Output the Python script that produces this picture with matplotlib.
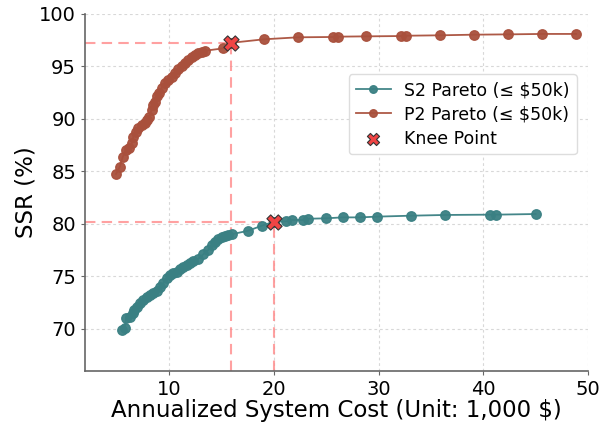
import numpy as np
import matplotlib.pyplot as plt

# S2 Pareto front (cost in 1,000 $, SSR in %)
s2_cost = [5.49, 5.80, 5.90, 6.28, 6.60, 6.66, 6.92, 7.23, 7.55, 7.87, 8.19,
           8.50, 8.83, 9.14, 9.46, 9.78, 10.10, 10.41, 10.73, 11.05, 11.36,
           11.69, 12.00, 12.32, 12.80, 13.27, 13.75, 14.07, 14.39, 14.70,
           15.03, 15.34, 15.66, 15.98, 17.57, 18.90, 20.05, 21.16, 21.71,
           22.76, 23.29, 24.98, 26.57, 28.23, 29.82, 33.06, 36.34, 40.63,
           41.20, 44.99]
s2_ssr = [69.90, 70.06, 71.02, 71.17, 71.49, 71.81, 72.12, 72.45, 72.76,
          73.02, 73.24, 73.40, 73.65, 73.97, 74.35, 74.83, 75.14, 75.30,
          75.46, 75.68, 75.90, 76.10, 76.30, 76.48, 76.70, 77.10, 77.52,
          78.00, 78.31, 78.57, 78.73, 78.86, 78.95, 79.02, 79.36, 79.85,
          80.22, 80.25, 80.38, 80.38, 80.50, 80.54, 80.63, 80.63, 80.70,
          80.79, 80.86, 80.89, 80.89, 80.95]

# P2 Pareto front
p2_cost = [4.95, 5.32, 5.58, 5.90, 6.21, 6.47, 6.60, 6.85, 7.07, 7.40, 7.71,
           7.93, 8.12, 8.35, 8.50, 8.66, 8.88, 9.07, 9.30, 9.62, 9.93, 10.26,
           10.57, 10.89, 11.21, 11.53, 11.84, 12.17, 12.48, 12.81, 13.12,
           13.44, 15.20, 15.90, 19.07, 22.34, 25.62, 26.09, 28.80, 32.11,
           32.61, 35.86, 39.10, 42.38, 45.62, 48.86]
p2_ssr = [84.76, 85.46, 86.35, 87.05, 87.27, 87.68, 88.32, 88.79, 89.11,
          89.43, 89.59, 89.90, 90.22, 90.86, 91.33, 91.65, 92.19, 92.45,
          92.92, 93.40, 93.71, 94.03, 94.41, 94.73, 95.05, 95.37, 95.62,
          95.87, 96.10, 96.26, 96.41, 96.50, 96.73, 97.25, 97.59, 97.78,
          97.81, 97.84, 97.87, 97.90, 97.93, 97.97, 98.03, 98.06, 98.10,
          98.10]

knee_cost = [15.90, 20.05]
knee_ssr = [97.25, 80.22]

s2_color = '#3a8083'
p2_color = '#a9503c'

plt.rcParams['font.family'] = 'DejaVu Sans'
fig = plt.figure(figsize=(6.12, 4.24), dpi=100)
ax = fig.add_axes([0.139, 0.125, 0.822, 0.842])

ax.grid(True, color='#d8d8d8', linestyle=(0, (2.5, 2.5)), linewidth=0.8)
ax.set_axisbelow(True)

xmin, ymin = 2, 66
for kx, ky in zip(knee_cost, knee_ssr):
    ax.plot([xmin, kx], [ky, ky], color='#ff8a8a', alpha=0.8, lw=1.5,
            linestyle=(0, (5, 3)), zorder=1)
    ax.plot([kx, kx], [ymin, ky], color='#ff8a8a', alpha=0.8, lw=1.5,
            linestyle=(0, (5, 3)), zorder=1)

ax.plot(s2_cost, s2_ssr, '-o', color=s2_color, ms=6.8, lw=1.3, alpha=0.95,
        label='S2 Pareto (≤ $50k)', zorder=3)
ax.plot(p2_cost, p2_ssr, '-o', color=p2_color, ms=6.8, lw=1.3, alpha=0.95,
        label='P2 Pareto (≤ $50k)', zorder=3)
ax.scatter(knee_cost, knee_ssr, marker='X', s=120, color='#f04444',
           edgecolors='#333333', linewidths=0.8, label='Knee Point', zorder=5)

ax.set_xlim(xmin, 50)
ax.set_ylim(ymin, 100)
ax.set_xticks([10, 20, 30, 40, 50])
ax.set_yticks([70, 75, 80, 85, 90, 95, 100])
ax.tick_params(labelsize=14, length=3, color='#666666')
ax.set_xlabel('Annualized System Cost (Unit: 1,000 $)', fontsize=16.5, labelpad=0)
ax.set_ylabel('SSR (%)', fontsize=16.5, labelpad=1)

for s in ['top', 'right']:
    ax.spines[s].set_visible(False)
for s in ['left', 'bottom']:
    ax.spines[s].set_color('#666666')
    ax.spines[s].set_linewidth(1.2)

ax.legend(loc='upper right', bbox_to_anchor=(0.995, 0.855), fontsize=12.5,
          framealpha=1, edgecolor='#dddddd', markerscale=0.8,
          labelspacing=0.35)

fig.savefig('out.png', dpi=100)
